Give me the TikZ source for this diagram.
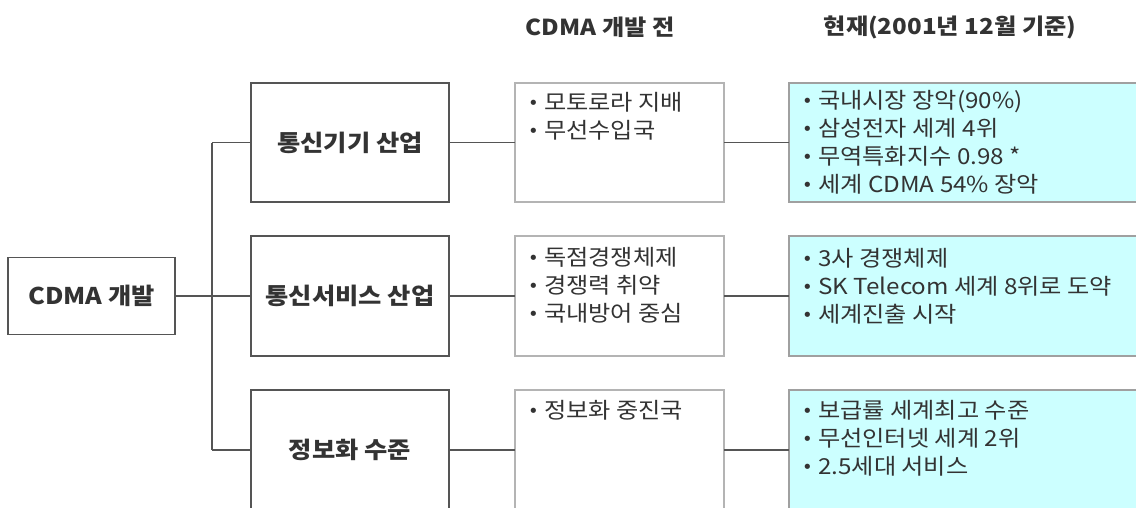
\documentclass[tikz,border=0pt]{standalone}
\usepackage{fontspec}
\setmainfont{Noto Sans CJK KR}[FakeStretch=1.1]
\newfontfamily\dvfont{DejaVu Sans}
\definecolor{linegray}{HTML}{555555}
\definecolor{beforeedge}{HTML}{B4B4B4}
\definecolor{cyanfill}{HTML}{CCFFFF}
\definecolor{cyanedge}{HTML}{A0A0A0}
\definecolor{txt}{HTML}{333333}
\newcommand\bul{\makebox[17pt][l]{\hspace{1pt}\raisebox{0.5pt}{\dvfont\fontsize{18pt}{18pt}\selectfont •}}}
\newcommand\blines[1]{\parbox[t]{330pt}{\fontsize{22pt}{28pt}\selectfont\raggedright #1}}
\tikzset{
  conn/.style={draw=linegray, line width=1.3pt},
  mainbox/.style={draw=linegray, line width=1.5pt, fill=white, inner sep=0pt, outer sep=0pt,
    font=\fontsize{23pt}{23pt}\selectfont\bfseries, text=txt},
  beforebox/.style={draw=beforeedge, line width=1.2pt, fill=white, inner sep=0pt, outer sep=0pt},
  nowbox/.style={draw=cyanedge, line width=1.2pt, fill=cyanfill, inner sep=0pt, outer sep=0pt},
  bullets/.style={anchor=base west, inner sep=0pt, text=txt},
  header/.style={font=\fontsize{22pt}{22pt}\selectfont\bfseries, text=txt, inner sep=0pt},
}
\begin{document}
\begin{tikzpicture}[x=1pt,y=-1pt]
\useasboundingbox (0,0) rectangle (1136,507);
\clip (0,0) rectangle (1136,507);
% headers
\node[header] (h1) at (600,27) {CDMA 개발 전};
\node[header] (h2) at (950,27) {현재(2001년 12월 기준)};
% root
\node[mainbox, minimum width=167pt, minimum height=77pt] (root) at (91.5,296) {CDMA 개발};
% column 2
\node[mainbox, minimum width=198pt, minimum height=119pt] (s1) at (350,142.5) {통신기기 산업};
\node[mainbox, minimum width=198pt, minimum height=120pt] (s2) at (350,296) {통신서비스 산업};
\node[mainbox, minimum width=198pt, minimum height=120pt] (s3) at (350,450) {정보화 수준};
% column 3
\node[beforebox, minimum width=209pt, minimum height=119pt] (b1) at (619.5,142.5) {};
\node[beforebox, minimum width=209pt, minimum height=120pt] (b2) at (619.5,296) {};
\node[beforebox, minimum width=209pt, minimum height=120pt] (b3) at (619.5,450) {};
% column 4
\node[nowbox, minimum width=361pt, minimum height=119pt] (n1) at (969.5,142.5) {};
\node[nowbox, minimum width=361pt, minimum height=120pt] (n2) at (969.5,296) {};
\node[nowbox, minimum width=361pt, minimum height=120pt] (n3) at (969.5,450) {};
% trunk
\coordinate (tk1) at (212,142.5);
\coordinate (tk3) at (212,450);
\draw[conn] (tk1) -- (tk3);
\draw[conn] (tk1) -- (s1.west);
\draw[conn] (tk3) -- (s3.west);
\draw[conn] (root.east) -- (s2.west);
% row connectors
\draw[conn] (s1.east) -- (b1.west);
\draw[conn] (s2.east) -- (b2.west);
\draw[conn] (s3.east) -- (b3.west);
\draw[conn] (b1.east) -- (n1.west);
\draw[conn] (b2.east) -- (n2.west);
\draw[conn] (b3.east) -- (n3.west);
% texts column 3
\node[bullets] (b1t) at (527,110) {\blines{\bul 모토로라 지배\\\bul 무선수입국}};
\node[bullets] (b2t) at (527,265) {\blines{\bul 독점경쟁체제\\\bul 경쟁력 취약\\\bul 국내방어 중심}};
\node[bullets] (b3t) at (527,418) {\blines{\bul 정보화 중진국}};
% texts column 4
\node[bullets] (n1t) at (801,108) {\blines{\bul 국내시장 장악(90\%)\\\bul 삼성전자 세계 4위\\\bul 무역특화지수 0.98 *\\\bul 세계 CDMA 54\% 장악}};
\node[bullets] (n2t) at (801,266) {\blines{\bul 3사 경쟁체제\\\bul SK Telecom 세계 8위로 도약\\\bul 세계진출 시작}};
\node[bullets] (n3t) at (801,418) {\blines{\bul 보급률 세계최고 수준\\\bul 무선인터넷 세계 2위\\\bul 2.5세대 서비스}};
\end{tikzpicture}
\end{document}
